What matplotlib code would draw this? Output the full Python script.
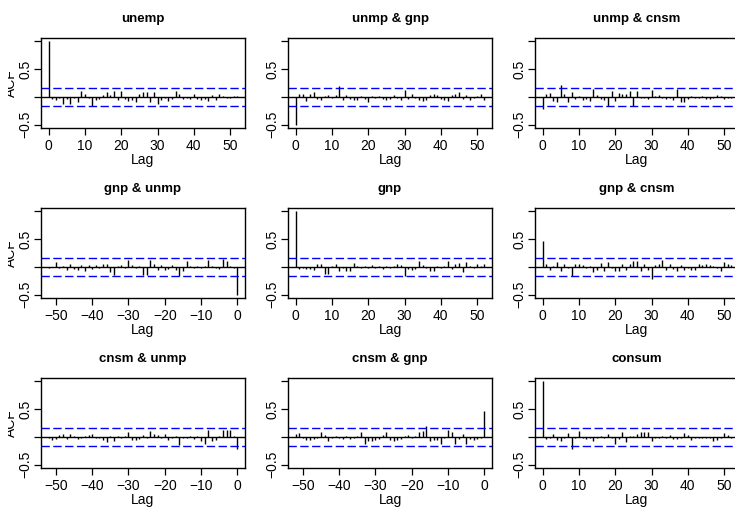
import numpy as np
import matplotlib
matplotlib.use("Agg")
import matplotlib.pyplot as plt
from matplotlib.transforms import Bbox

plt.rcParams['font.family'] = ['Liberation Sans', 'DejaVu Sans']

lags_pos = np.arange(0, 53)
lags_neg = np.arange(-52, 1)
conf = 0.16

unemp = [1.0, -0.03, -0.05, -0.02, -0.12, -0.03, -0.12, -0.02, -0.10, 0.10,
         0.05, -0.02, -0.17, -0.05, -0.03, 0.03, 0.08, 0.03, 0.10, -0.05,
         0.10, -0.03, -0.07, -0.05, -0.10, 0.05, 0.08, 0.08, -0.10, 0.08,
         -0.12, -0.05, -0.02, -0.08, -0.03, 0.10, 0.05, -0.03, -0.02, -0.03,
         0.05, -0.03, -0.05, -0.03, -0.08, 0.03, -0.05, 0.05, 0.02, -0.02,
         -0.02, 0.02, 0.02]
unmp_gnp = [-0.51, 0.05, 0.05, -0.08, 0.05, 0.08, -0.03, -0.05, 0.02, 0.03,
            -0.02, 0.03, 0.20, -0.05, 0.03, -0.03, -0.05, -0.05, 0.02, -0.03,
            -0.10, 0.02, -0.02, 0.02, -0.03, -0.05, -0.03, 0.03, -0.02, -0.05,
            0.13, -0.03, 0.05, -0.02, -0.05, -0.08, -0.05, 0.03, 0.05, 0.03,
            -0.03, -0.05, -0.08, 0.03, 0.05, 0.08, -0.03, 0.03, -0.05, -0.02,
            0.02, 0.05, -0.05]
unmp_cnsm = [-0.22, 0.05, 0.07, -0.08, -0.10, 0.22, 0.05, -0.10, 0.08, -0.03,
             0.02, -0.05, -0.03, -0.07, 0.15, 0.03, -0.03, -0.05, -0.17, 0.10,
             -0.07, 0.07, 0.05, 0.05, 0.10, -0.17, 0.10, -0.02, -0.02, -0.03,
             0.12, 0.02, 0.03, -0.02, -0.03, -0.02, -0.05, 0.15, -0.10, -0.10,
             -0.03, 0.02, -0.02, -0.02, 0.02, -0.03, -0.03, -0.02, 0.03, 0.02,
             -0.03, -0.02, -0.02]
gnp_unmp = [-0.02, 0.00, 0.08, -0.02, 0.02, -0.05, 0.05, -0.03, -0.05, 0.03,
            -0.07, 0.03, -0.03, 0.03, -0.02, 0.05, 0.05, -0.10, -0.15, 0.02,
            0.03, -0.02, 0.13, 0.03, -0.02, 0.02, -0.15, -0.15, 0.12, 0.05,
            -0.05, 0.03, -0.05, -0.03, 0.03, -0.05, -0.17, -0.07, 0.10, 0.02,
            -0.02, 0.02, -0.02, 0.02, 0.13, 0.02, -0.02, -0.03, 0.15, 0.10,
            0.02, -0.02, -0.51]
gnp = [1.0, -0.03, -0.02, -0.03, -0.03, -0.05, 0.05, 0.05, -0.12, -0.13,
       0.02, 0.05, -0.08, -0.02, -0.08, -0.07, 0.07, 0.02, -0.02, 0.02,
       -0.02, 0.03, -0.02, 0.02, -0.03, 0.02, -0.02, 0.02, 0.05, 0.03,
       -0.17, -0.03, -0.05, -0.03, 0.10, 0.03, -0.02, -0.08, -0.08, 0.02,
       -0.02, 0.02, 0.10, -0.03, 0.05, 0.07, -0.10, 0.08, 0.02, -0.02,
       0.05, 0.02, 0.05]
gnp_cnsm = [0.47, 0.05, -0.05, 0.02, 0.08, -0.08, 0.05, -0.02, -0.17, 0.05,
            0.05, 0.03, -0.02, 0.02, -0.10, -0.05, 0.07, -0.07, 0.08, -0.02,
            -0.08, -0.07, 0.05, -0.05, 0.05, 0.10, 0.10, -0.08, 0.05, -0.05,
            -0.22, 0.03, 0.05, 0.13, -0.05, 0.05, -0.03, -0.07, 0.03, -0.05,
            -0.02, -0.05, -0.05, 0.05, 0.03, 0.05, 0.03, 0.02, -0.02, -0.08,
            0.08, 0.05, 0.03]
cnsm_unmp = [-0.02, -0.05, -0.03, 0.03, 0.05, -0.03, 0.05, 0.02, -0.03, -0.02,
             0.02, 0.03, 0.05, -0.02, -0.02, -0.05, -0.10, 0.02, -0.08, 0.02,
             -0.02, 0.02, 0.08, -0.05, -0.05, -0.03, 0.03, -0.02, 0.10, 0.05,
             0.03, -0.02, 0.05, -0.05, -0.02, 0.02, -0.15, -0.02, -0.02, 0.02,
             -0.03, 0.02, -0.07, -0.12, 0.12, -0.08, -0.05, 0.02, 0.12, 0.12,
             0.12, 0.02, -0.22]
cnsm_gnp = [0.05, 0.07, -0.02, -0.05, -0.05, -0.03, -0.02, 0.08, 0.03, -0.07,
            -0.02, 0.02, -0.02, -0.03, 0.02, -0.03, -0.02, 0.02, 0.08, -0.12,
            -0.07, -0.07, -0.05, -0.03, 0.03, 0.08, -0.05, -0.08, -0.05, -0.03,
            0.02, 0.03, -0.02, 0.02, 0.08, 0.10, 0.20, -0.08, -0.05, -0.05,
            -0.12, -0.02, 0.12, 0.08, -0.12, -0.03, 0.05, -0.12, -0.03, -0.05,
            -0.03, -0.02, 0.47]
consum = [1.0, -0.03, -0.02, 0.05, -0.05, -0.08, -0.02, 0.07, -0.22, -0.02,
          0.10, -0.02, -0.03, -0.02, -0.07, -0.02, 0.02, -0.02, 0.05, -0.02,
          -0.13, -0.03, 0.08, -0.10, 0.02, 0.02, 0.05, 0.08, 0.08, 0.08,
          -0.08, -0.02, -0.02, 0.02, -0.02, 0.03, -0.03, -0.03, -0.02, 0.07,
          0.03, -0.05, -0.02, -0.02, -0.02, -0.02, -0.02, -0.07, -0.05, -0.02,
          0.07, 0.03, -0.02]

titles = [["unemp", "unmp & gnp", "unmp & cnsm"],
          ["gnp & unmp", "gnp", "gnp & cnsm"],
          ["cnsm & unmp", "cnsm & gnp", "consum"]]
values = [[unemp, unmp_gnp, unmp_cnsm],
          [gnp_unmp, gnp, gnp_cnsm],
          [cnsm_unmp, cnsm_gnp, consum]]

W, H = 735, 508
fig = plt.figure(figsize=(W / 100, H / 100), dpi=100)

col_left = [41, 288, 535]
row_top = [38, 208, 378]
bw, bh = 204, 90

yticks = [-0.5, 0.0, 0.5, 1.0]
ylabels = ["\u22120.5", "", "0.5", ""]

for r in range(3):
    for c in range(3):
        x0, y0 = col_left[c], row_top[r]
        ax = fig.add_axes([x0 / W, 1 - (y0 + bh) / H, bw / W, bh / H])
        neg = c < r
        lags = lags_neg if neg else lags_pos
        vals = np.array(values[r][c])
        ax.vlines(lags, 0, vals, colors="black", lw=1.0)
        ax.axhline(0, color="black", lw=1.0)
        for s in (conf, -conf):
            ax.axhline(s, color="blue", lw=1.0, linestyle=(0, (6, 2.5)))
        if neg:
            ax.set_xlim(-54.08, 2.08)
            xt = [-50, -40, -30, -20, -10, 0]
        else:
            ax.set_xlim(-2.08, 54.08)
            xt = [0, 10, 20, 30, 40, 50]
        ax.set_ylim(-0.56, 1.06)
        ax.set_xticks(xt)
        ax.set_xticklabels([str(v).replace("-", "\u2212") for v in xt], fontsize=10)
        ax.set_yticks(yticks)
        ax.set_yticklabels(ylabels, rotation=90, va="center", fontsize=10)
        ax.tick_params(direction="out", length=5, width=0.9, colors="black")
        ax.tick_params(axis="x", pad=3)
        ax.tick_params(axis="y", pad=1)
        for sp in ax.spines.values():
            sp.set_linewidth(1.0)
            sp.set_color("black")

        fig.text((x0 + bw / 2) / W, 1 - (y0 - 16) / H, titles[r][c], ha="center",
                 va="baseline", fontsize=9.5, fontweight="bold")
        fig.text((x0 + bw / 2) / W, 1 - (y0 + 122) / H, "Lag", ha="center",
                 va="center", fontsize=10)
        if c == 0:
            t = fig.text(18 / W, 1 - (y0 + bh / 2) / H, "ACF", rotation=90,
                         ha="right", va="center", fontsize=10)
            t.set_clip_box(Bbox.from_extents(8, 0, W, H))
            t.set_clip_on(True)

fig.savefig("out.png", dpi=100, facecolor="white")
